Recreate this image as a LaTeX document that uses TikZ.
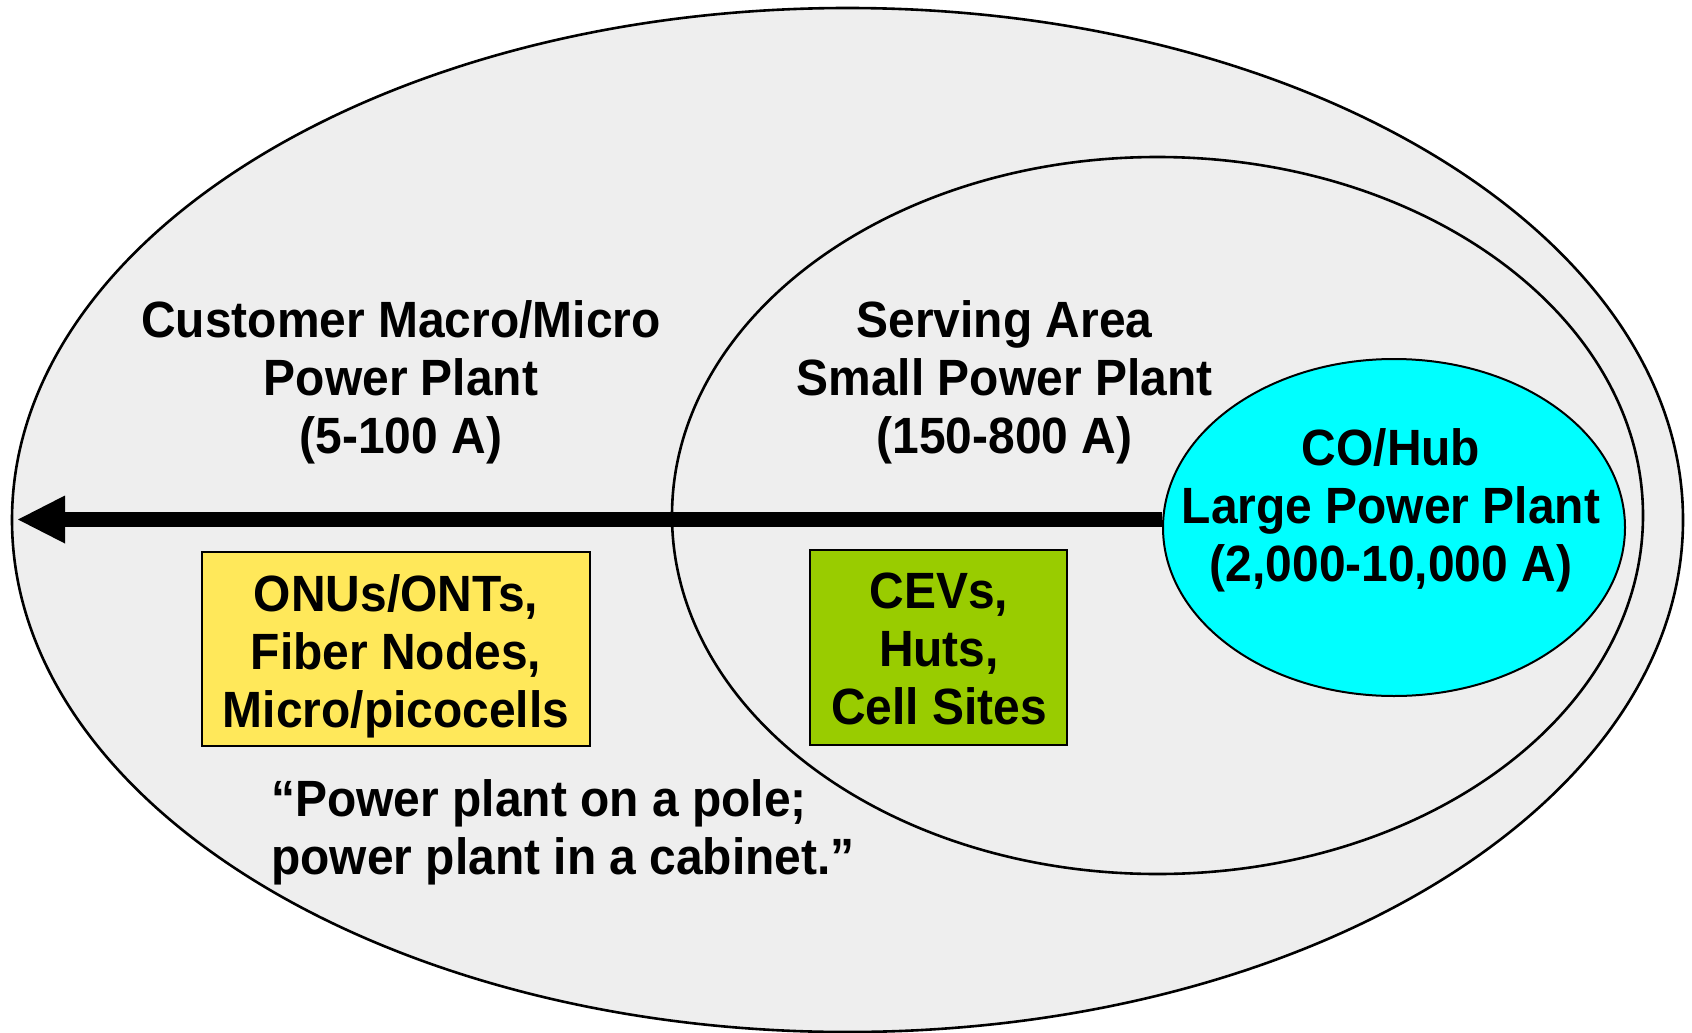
\documentclass[tikz,border=0pt]{standalone}
\usepackage{fontspec}
\setmainfont[FakeStretch = 0.94]{Liberation Sans}
\usepackage{tikz}
\usetikzlibrary{arrows.meta,shapes.geometric}
\definecolor{plantgray}{RGB}{238,238,238}
\definecolor{plantyellow}{RGB}{255,232,90}
\definecolor{plantgreen}{RGB}{153,204,0}
\definecolor{plantcyan}{RGB}{0,255,255}
\tikzset{zone/.style = {shape = ellipse, draw, line width = 1.3pt, inner sep = 0pt}}
\tikzset{plant/.style = {font = \fontsize{25.5pt}{29pt}\selectfont\bfseries, align = center, inner sep = 0pt}}
\tikzset{sitebox/.style = {draw, line width = 1pt, inner sep = 0pt}}
\tikzset{feed/.style = {line width = 7.5pt, -{Triangle[length = 23.5pt, width = 24pt, line width = 0pt]}}}

\begin{document}
\begin{tikzpicture}[x = 0.5pt, y = -0.5pt]
			\useasboundingbox (0, 0) rectangle (1692, 1033);

			\node[zone, fill = plantgray, minimum width = 835.5pt, minimum height = 512pt] (cust) at (847.5, 520) {};
			\node[zone, fill = plantgray, minimum width = 485.5pt, minimum height = 358.5pt] (area) at (1157.5, 515.5) {};
			\node[zone, fill = plantcyan, line width = 1pt, minimum width = 231pt, minimum height = 168.5pt] (hub) at (1394, 527.5) {};

			\coordinate (tip) at (18, 519.5);
			\draw[feed] (hub.west |- tip) to (tip);

			\node[plant] (custtext) at (401, 382) {Customer Macro/Micro\\Power Plant\\(5-100 A)};
			\node[plant] (areatext) at (1004.5, 382) {Serving Area\\Small Power Plant\\(150-800 A)};
			\node[plant] (hubtext) at (1391, 510.5) {CO/Hub\\Large Power Plant\\(2,000-10,000 A)};

			\node[sitebox, fill = plantyellow, minimum width = 194pt, minimum height = 97pt] (onu) at (396, 649) {};
			\node[sitebox, fill = plantgreen, minimum width = 128.5pt, minimum height = 97.5pt] (cev) at (938.5, 647.5) {};
			\node[plant] (onutext) at (396, 656) {ONUs/ONTs,\\Fiber Nodes,\\Micro/picocells};
			\node[plant] (cevtext) at (939, 648.5) {CEVs,\\Huts,\\Cell Sites};

			\node[plant, align = left, anchor = west] (quote) at (271, 832.5) {“Power plant on a pole;\\power plant in a cabinet.”};
		\end{tikzpicture}
\end{document}
